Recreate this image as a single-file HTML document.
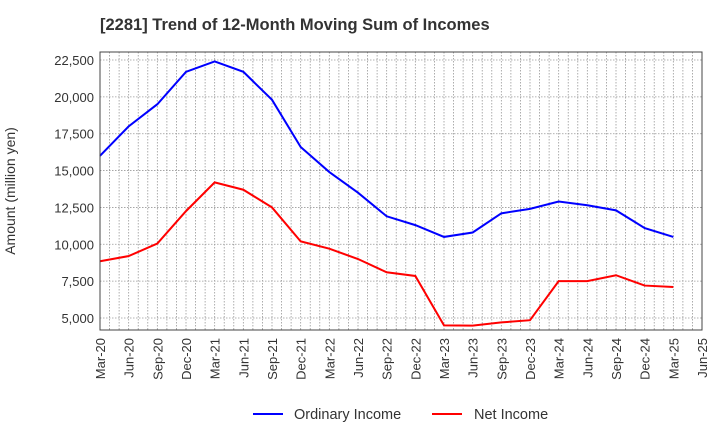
<!DOCTYPE html>
<html><head><meta charset="utf-8"><style>
body{margin:0;background:#fff;font-family:"Liberation Sans",sans-serif;}
</style></head><body>
<svg id="c" width="720" height="440" xmlns="http://www.w3.org/2000/svg">
<text x="100" y="30" font-size="16.5" font-weight="bold" fill="#333">[2281]  Trend of 12-Month Moving Sum of Incomes</text>
<text transform="translate(19,191) rotate(-90)" text-anchor="middle" font-size="14" fill="#333" x="0" y="-4">Amount (million yen)</text>
<g id="grid"></g><g id="series"></g><g id="axes"></g>
<g>
<line x1="253" y1="414" x2="283" y2="414" stroke="#0000ff" stroke-width="2"/>
<text x="294" y="419" font-size="14.5" fill="#333">Ordinary Income</text>
<line x1="432" y1="414" x2="462" y2="414" stroke="#ff0000" stroke-width="2"/>
<text x="474" y="419" font-size="14.5" fill="#333">Net Income</text>
</g>
</svg>
<script>
const categories=["Mar-20","Jun-20","Sep-20","Dec-20","Mar-21","Jun-21","Sep-21","Dec-21","Mar-22","Jun-22","Sep-22","Dec-22","Mar-23","Jun-23","Sep-23","Dec-23","Mar-24","Jun-24","Sep-24","Dec-24","Mar-25","Jun-25"];
const ordinaryIncome=[16000,18000,19500,21700,22400,21700,19800,16600,14900,13500,11900,11300,10500,10800,12100,12400,12900,12650,12300,11100,10500];
const netIncome=[8850,9200,10050,12250,14200,13700,12500,10200,9700,9000,8100,7850,4500,4480,4700,4850,7500,7500,7900,7200,7100];
const yTicks=[5000,7500,10000,12500,15000,17500,20000,22500];
const L=100,R=702,T=52,B=330;
const NS="http://www.w3.org/2000/svg";
const x=i=>L+(R-L)*i/(categories.length-1);
const y=v=>318-(v-5000)*(258/17500);
function mk(t,a,p){const e=document.createElementNS(NS,t);for(const k in a)e.setAttribute(k,a[k]);p.appendChild(e);return e;}
const grid=document.getElementById('grid'),axes=document.getElementById('axes'),ser=document.getElementById('series');
for(let m=0;m<=(categories.length-1)*3;m++){const xx=L+(R-L)*m/((categories.length-1)*3);
 const g=mk('line',{x1:xx,x2:xx,y1:T,y2:B,stroke:'#999','stroke-width':0.8,'stroke-dasharray':'1.5,1.5'},grid);
 }
yTicks.forEach(v=>{const g=mk('line',{x1:L,x2:R,y1:y(v),y2:y(v),stroke:'#999','stroke-width':0.8,'stroke-dasharray':'1.5,1.5'},grid);
 
 const t=mk('text',{x:L-6,y:y(v)+5,'text-anchor':'end','font-size':13,fill:'#333'},axes);t.textContent=v.toLocaleString('en-US');
 });
categories.forEach((c,i)=>{const t=mk('text',{transform:`translate(${x(i)+5},${B+8}) rotate(-90)`,'text-anchor':'end','font-size':13,fill:'#333'},axes);t.textContent=c;
 });
const fr=mk('rect',{x:L,y:T,width:R-L,height:B-T,fill:'none',stroke:'#444','stroke-width':1},axes);

function line(d,col,name){const p=mk('polyline',{points:d.map((v,i)=>x(i)+','+y(v)).join(' '),fill:'none',stroke:col,'stroke-width':2},ser);
 }
line(ordinaryIncome,'#0000ff','ordinary-income-line');
line(netIncome,'#ff0000','net-income-line');
</script>
</body></html>
